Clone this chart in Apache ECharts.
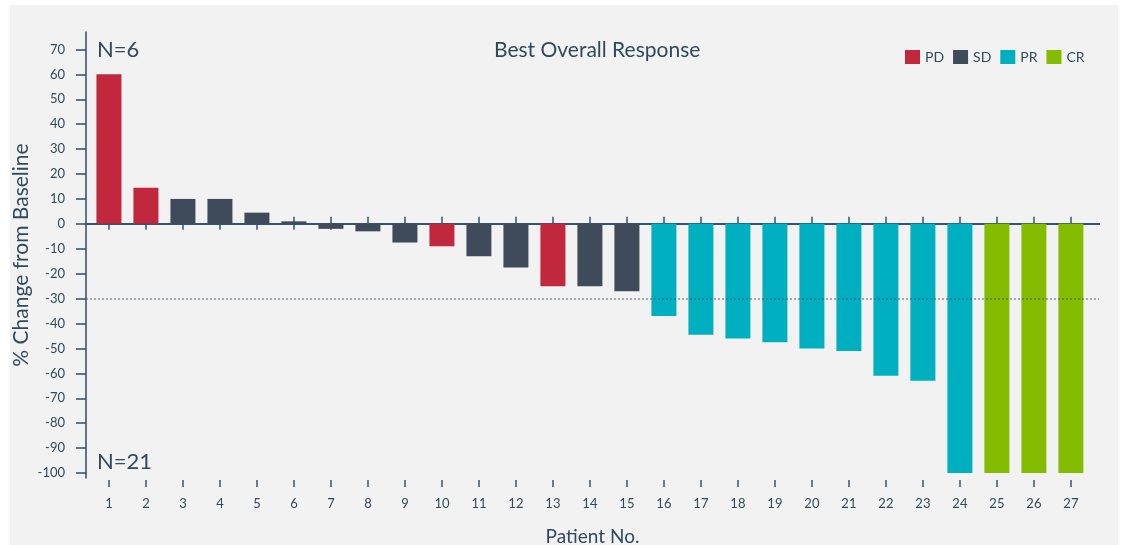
<!DOCTYPE html>
<html>
<head>
<meta charset="utf-8">
<script src="https://cdn.jsdelivr.net/npm/echarts@6/dist/echarts.min.js"></script>
<style>
html,body{margin:0;padding:0;background:#fff;}
#chart{width:1126px;height:545px;}
</style>
</head>
<body>
<div id="chart"></div>
<script>
// ---- data ----
var patients = ['1','2','3','4','5','6','7','8','9','10','11','12','13','14','15','16','17','18','19','20','21','22','23','24','25','26','27'];
var changes = [60, 14.5, 10, 10, 4.5, 1, -2, -3, -7.5, -9, -13, -17.5, -25, -25, -27, -37, -44.5, -46, -47.5, -50, -51, -61, -63, -100, -100, -100, -100];
var responses = ['PD','PD','SD','SD','SD','SD','SD','SD','SD','PD','SD','SD','PD','SD','SD','PR','PR','PR','PR','PR','PR','PR','PR','PR','CR','CR','CR'];
var categories = ['PD','SD','PR','CR'];
var categoryColors = ['#c1283e','#3f4a5b','#00afc0','#84bd00'];
var yTicks = [-100,-90,-80,-70,-60,-50,-40,-30,-20,-10,0,10,20,30,40,50,60,70];
var threshold = -30;

var textColor = '#2f4a5e';
var fontFamily = 'Lato, "Open Sans", sans-serif';
var patientNums = patients.map(function(p){ return Number(p); });

var series = categories.map(function(cat, ci){
  var data = [];
  patients.forEach(function(p, i){
    if (responses[i] === cat) data.push([Number(p), changes[i]]);
  });
  var s = {
    name: cat,
    type: 'bar',
    xAxisIndex: 0,
    yAxisIndex: 0,
    barWidth: 25,
    barGap: '-100%',
    itemStyle: { color: categoryColors[ci] },
    data: data
  };
  if (ci === categories.length - 1) {
    s.markLine = {
      silent: true,
      symbol: 'none',
      label: { show: false },
      lineStyle: { type: 'dotted', color: 'rgba(60,85,105,0.45)', width: 2 },
      data: [{ yAxis: threshold }]
    };
  }
  return s;
});

var chart = echarts.init(document.getElementById('chart'), null, {renderer: 'canvas'});
var xMin = 0.38, xMax = 27.76;
chart.setOption({
  backgroundColor: '#ffffff',
  animation: false,
  textStyle: { fontFamily: fontFamily },
  graphic: [{
    type: 'rect', z: -100, silent: true,
    shape: { x: 10, y: 5, width: 1108, height: 545 },
    style: { fill: '#f2f2f2' }
  }],
  title: [
    { text: 'N=6', left: 92, top: 34, textStyle: { fontSize: 22, fontWeight: 'normal', color: textColor, fontFamily: fontFamily } },
    { text: 'N=21', left: 92, top: 446, textStyle: { fontSize: 22, fontWeight: 'normal', color: textColor, fontFamily: fontFamily } },
    { text: 'Best Overall Response', left: 489, top: 35, textStyle: { fontSize: 21, fontWeight: 'normal', color: textColor, fontFamily: fontFamily } }
  ],
  legend: {
    data: categories,
    left: 900, top: 45,
    icon: 'rect',
    itemWidth: 15, itemHeight: 14, itemGap: 9,
    textStyle: { fontSize: 14, color: textColor, fontFamily: fontFamily }
  },
  grid: { left: 86, right: 27, top: 32, bottom: 67, containLabel: false, outerBoundsMode: 'none' },
  xAxis: [
    {
      type: 'value', min: xMin, max: xMax, position: 'bottom',
      axisLine: { show: true, onZero: true, onZeroAxisIndex: 0, lineStyle: { color: '#33566f', width: 2 } },
      axisTick: { show: true, inside: false, length: 6, customValues: patientNums, lineStyle: { color: '#33566f', width: 1.5 } },
      axisLabel: { show: false },
      splitLine: { show: false }
    },
    {
      type: 'value', min: xMin, max: xMax, position: 'bottom',
      axisLine: { show: true, onZero: true, onZeroAxisIndex: 0, lineStyle: { color: '#33566f', width: 2 } },
      axisTick: { show: true, inside: true, length: 7, customValues: patientNums, lineStyle: { color: '#33566f', width: 1.5 } },
      axisLabel: { show: false },
      splitLine: { show: false }
    },
    {
      type: 'value', min: xMin, max: xMax, position: 'bottom', offset: 2,
      name: 'Patient No.', nameLocation: 'middle', nameGap: 47,
      nameTextStyle: { fontSize: 19, color: textColor, fontFamily: fontFamily },
      axisLine: { show: false, onZero: false },
      axisTick: { show: true, length: 7, customValues: patientNums, lineStyle: { color: '#3b5568', width: 1.5 } },
      axisLabel: {
        show: true, margin: 17, fontSize: 13, color: textColor, fontFamily: fontFamily,
        customValues: patientNums,
        formatter: function(v){ return patients[patientNums.indexOf(Math.round(v))] || ''; }
      },
      splitLine: { show: false }
    }
  ],
  yAxis: [{
    type: 'value', min: -102, max: 77, position: 'left',
    name: '% Change from Baseline', nameLocation: 'middle', nameGap: 54, nameRotate: 90,
    nameMoveOverlap: false,
    nameTextStyle: { fontSize: 21, color: textColor, fontFamily: fontFamily },
    axisLine: { show: true, onZero: false, lineStyle: { color: '#2e4d66', width: 1.5 } },
    axisTick: { show: true, inside: false, length: 10, customValues: yTicks, lineStyle: { color: '#2e4d66', width: 1.5 } },
    axisLabel: { show: true, margin: 21, fontSize: 13, color: textColor, fontFamily: fontFamily, customValues: yTicks },
    splitLine: { show: false }
  }],
  series: series
});
</script>
</body>
</html>
